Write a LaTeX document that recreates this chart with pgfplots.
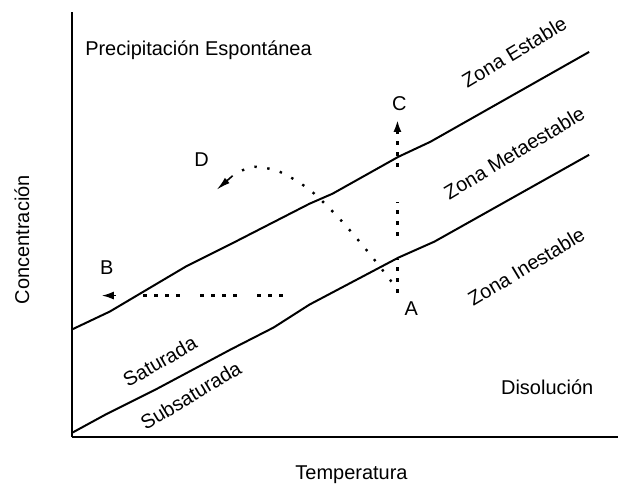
\documentclass[border=0pt]{standalone}
\usepackage{pgfplots}
\pgfplotsset{compat=1.18}
\usepackage{fontspec}
\setmainfont{Liberation Sans}
\usetikzlibrary{arrows.meta}

% coordinates are image pixels, y counted upwards (y = 487 - row)
\pgfplotsset{
  dots/.style={black, line width=1.65pt, dash pattern=on 1.65pt off 3.85pt},
}
\tikzset{lbl/.style={font=\fontsize{10}{12}\selectfont, inner sep=0pt}}

\begin{document}
\begin{tikzpicture}
\begin{axis}[
    x=0.5pt, y=0.5pt,
    xmin=72, xmax=619, ymin=49, ymax=475,
    axis x line=bottom, axis y line=left,
    axis line style={-, line width=0.9pt},
    xtick=\empty, ytick=\empty,
    clip=false,
  ]
% saturation curves
\addplot [black, line width=1pt] coordinates {
  (72,157) (110,175) (186,220) (230,242) (310,283) (333,293) (399,330) (431,345) (590,435)};
\addplot [black, line width=1pt] coordinates {
  (73,54) (106,72) (156,97) (231,137) (274,159) (310,182) (399,229) (435,245) (590,332)};

% A -> C
\addplot [dots] coordinates {(398,194) (398,228)};
\addplot [dots] coordinates {(398,251) (398,285)};
\addplot [dots, -{Latex[length=6pt,width=4pt]}] coordinates {(398,320) (398,367)};

% -> B
\addplot [dots] coordinates {(283,191) (257,191)};
\addplot [dots] coordinates {(237,191) (199,191)};
\addplot [dots] coordinates {(180,191) (142,191)};
\addplot [black, line width=0.8pt, -{Latex[length=6pt,width=4pt]}] coordinates {(116,191) (102,191)};

% -> D
\addplot [black, line width=1.2pt, smooth, dash pattern=on 1.2pt off 5.3pt]
  coordinates {(392,205) (370,233) (340,268) (310,297) (280,315) (255,320) (242,316)};
\addplot [black, line width=0.8pt, -{Latex[length=7pt,width=3.5pt]}] coordinates {(233,311) (217,297)};

% bounding box of the figure
\path (axis cs:0,0) (axis cs:619,487);

% texts
\node [lbl, anchor=west] at (axis cs:85,437) {Precipitación Espontánea};
\node [lbl, rotate=31] at (axis cs:515,435) {Zona Estable};
\node [lbl, rotate=31] at (axis cs:515,334) {Zona Metaestable};
\node [lbl, rotate=31] at (axis cs:527,220) {Zona Inestable};
\node [lbl, rotate=30] at (axis cs:160,125) {Saturada};
\node [lbl, rotate=31] at (axis cs:191,91) {Subsaturada};
\node [lbl] at (axis cs:548,99) {Disolución};
\node [lbl] at (axis cs:412,178) {A};
\node [lbl] at (axis cs:107,219) {B};
\node [lbl] at (axis cs:400,383) {C};
\node [lbl] at (axis cs:202,327) {D};
\node [lbl, rotate=90] at (axis cs:22,247) {Concentración};
\node [lbl] at (axis cs:352,12) {Temperatura};
\end{axis}
\end{tikzpicture}
\end{document}
